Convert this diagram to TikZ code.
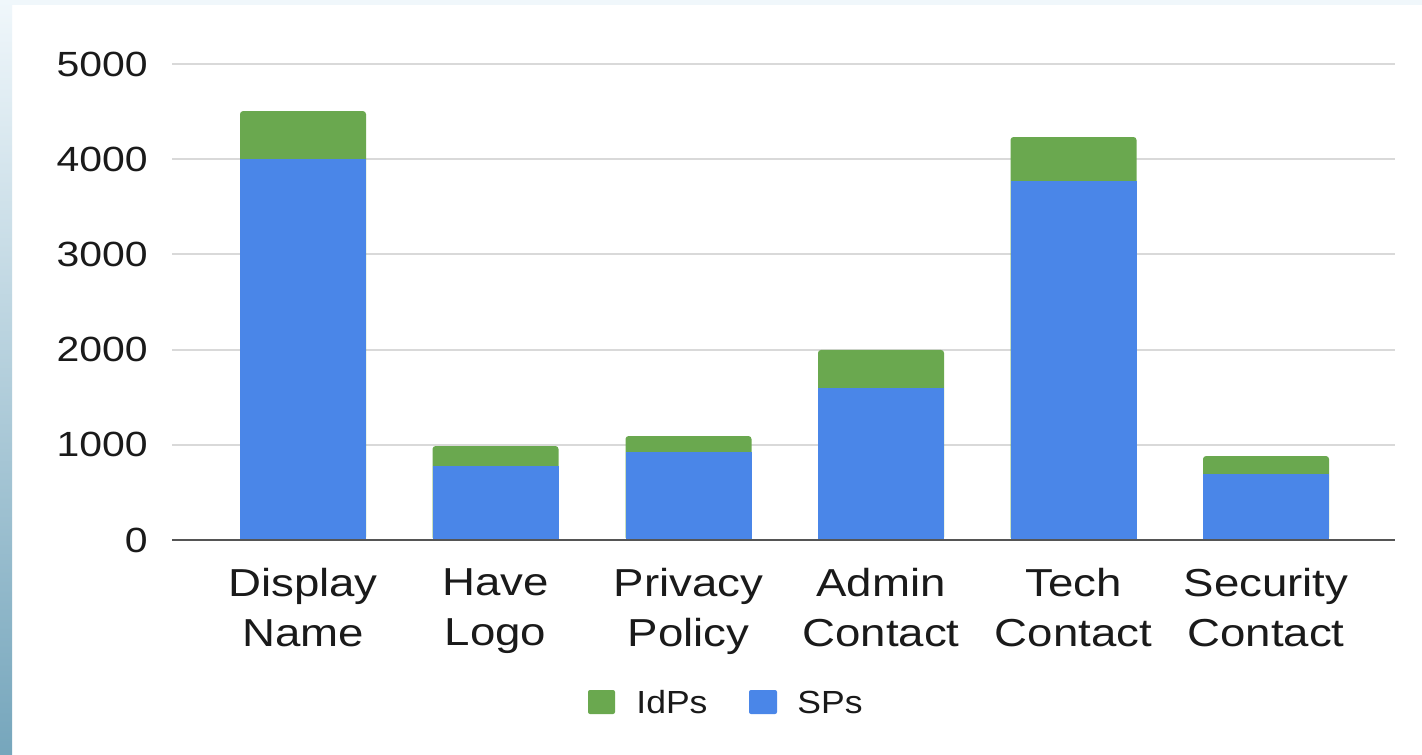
\documentclass[tikz,border=0pt]{standalone}
\usepackage{fontspec}
\usepackage{graphicx}
\setmainfont{Liberation Sans}
\definecolor{spblue}{HTML}{4A86E8}
\definecolor{idpgreen}{HTML}{6AA84F}
\definecolor{gridgray}{HTML}{D9D9D9}
\definecolor{axisgray}{HTML}{555555}
\definecolor{inkgray}{HTML}{1A1A1A}
\definecolor{edgetop}{HTML}{F0F7FB}
\definecolor{edgebot}{HTML}{76A6BC}
\tikzset{
  gridline/.style={draw=gridgray, line width=1pt},
  axisline/.style={draw=axisgray, line width=1.2pt},
  ticklabel/.style={font=\fontsize{17.5}{20}\selectfont, text=inkgray, anchor=east, inner sep=0pt},
  catlabel/.style={font=\fontsize{19.5}{25}\selectfont, text=inkgray, align=center, anchor=north, inner sep=0pt},
  legendtext/.style={font=\fontsize{16}{18}\selectfont, text=inkgray, anchor=west, inner sep=0pt},
  idpbar/.style={fill=idpgreen, rounded corners=1.5pt},
  spbar/.style={fill=spblue},
}
\newcommand{\hs}[1]{\scalebox{1.17}[1]{#1}}
\newcommand{\hsl}[1]{\scalebox{1.11}[1]{#1}}
\begin{document}
\begin{tikzpicture}[x=0.5pt, y=-0.5pt]
  \useasboundingbox (0,0) rectangle (1422,754);
  \fill[white] (0,0) rectangle (1422,754);
  % tinted page edges
  \fill[edgetop] (0,0) rectangle (1422,5);
  \shade[top color=edgetop, bottom color=edgebot] (0,0) rectangle (12,754);

  % gridlines and value labels
  \foreach \v in {1,2,3,4,5} {
    \draw[gridline] (172,{540-95.2*\v}) -- (1395,{540-95.2*\v});
  }
  \foreach \v/\lab in {0/0,1/1000,2/2000,3/3000,4/4000,5/5000} {
    \node[ticklabel] (tick\v) at (148,{540-95.2*\v}) {\hs{\lab}};
  }

  % stacked bars: centre / SPs / SPs+IdPs / two-line label
  \foreach \i/\cx/\sp/\tot/\la/\lb in {
      1/303/4000/4505/Display/Name,
      2/495.5/777/987/Have/Logo,
      3/688.5/924/1092/Privacy/Policy,
      4/881/1597/1996/Admin/Contact,
      5/1073.5/3771/4233/Tech/Contact,
      6/1266/693/882/Security/Contact} {
    \fill[idpbar] ({\cx-63},540) rectangle ({\cx+63},{540-0.0952*\tot});
    \fill[spbar] ({\cx-63},540) rectangle ({\cx+63},{540-0.0952*\sp});
    \node[catlabel] (cat\i) at (\cx,568) {\hs{\la}\\\hs{\lb}};
  }

  % baseline axis
  \draw[axisline] (172,540) -- (1395,540);

  % legend
  \node[fill=idpgreen, rounded corners=1pt, minimum width=13.5pt, minimum height=12pt, inner sep=0pt] (keyidp) at (601.5,702) {};
  \node[legendtext] (txtidp) at (636,702) {\hsl{IdPs}};
  \node[fill=spblue, rounded corners=1pt, minimum width=14pt, minimum height=12pt, inner sep=0pt] (keysp) at (763,702) {};
  \node[legendtext] (txtsp) at (797,702) {\hsl{SPs}};
\end{tikzpicture}
\end{document}
